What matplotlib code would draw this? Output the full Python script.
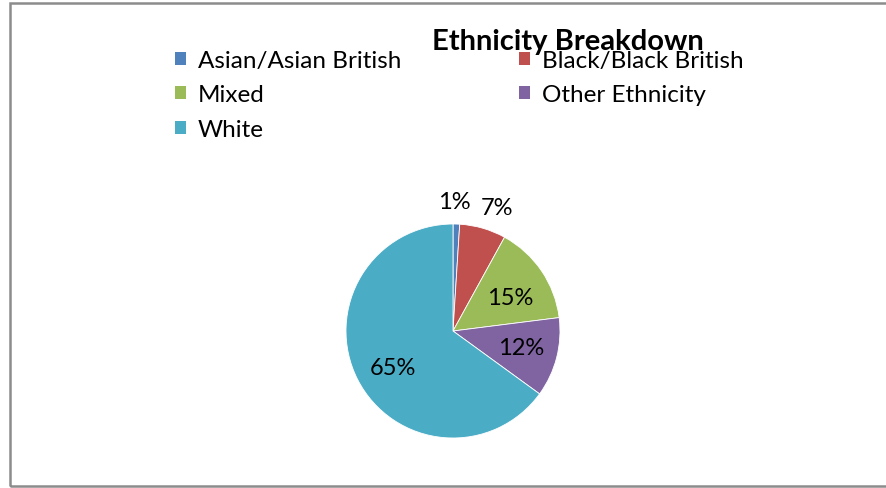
import numpy as np
import matplotlib
matplotlib.use("Agg")
import matplotlib.pyplot as plt
from matplotlib.patches import Rectangle, Patch

# Данные
categories = ["Asian/Asian British", "Black/Black British", "Mixed",
              "Other Ethnicity", "White"]
values = [1, 7, 15, 12, 65]
colors = ["#4F81BD", "#C0504D", "#9BBB59", "#8064A2", "#4BACC6"]

plt.rcParams['font.family'] = ['Lato', 'DejaVu Sans']

W, H = 886, 489
fig = plt.figure(figsize=(W / 100, H / 100), dpi=100)

# Рамка области диаграммы
fig.patches.append(Rectangle((10 / W, 1 - 487 / H), 1.2, (487 - 4) / H,
                             transform=fig.transFigure, fill=False,
                             edgecolor="#8c8c8c", linewidth=1.8))

# Круговая диаграмма
cx, cy, r = 453, 332, 107
ax = fig.add_axes([(cx - r) / W, 1 - (cy + r) / H, 2 * r / W, 2 * r / H])
wedges, texts, autotexts = ax.pie(values, colors=colors, startangle=90,
                                  counterclock=False, radius=1,
                                  autopct=lambda p: f"{p:.0f}%",
                                  pctdistance=0.65,
                                  wedgeprops=dict(linewidth=0.6, edgecolor="white"),
                                  textprops=dict(fontsize=17, color="black"))
ax.set_xlim(-1, 1)
ax.set_ylim(-1, 1)
ax.set_aspect("equal")

# Положение подписей: (сдвиг угла в градусах, расстояние от центра)
label_place = [(1.0, 1.21), (-3.5, 1.23), (-4.0, 0.62), (1.0, 0.65), (4.0, 0.66)]
for w, t, (dang, dist) in zip(wedges, autotexts, label_place):
    ang = np.deg2rad((w.theta1 + w.theta2) / 2 + dang)
    t.set_position((dist * np.cos(ang), dist * np.sin(ang)))
    t.set_clip_on(False)

# Заголовок
fig.text(568 / W, 1 - 42 / H, "Ethnicity Breakdown", ha="center", va="center",
         fontsize=21, fontweight="bold")

# Легенда в две колонки (построчно, как в Excel)
handles = [Patch(facecolor=c) for c in colors]
leg_kw = dict(loc="upper left", frameon=False, fontsize=17.5,
              handlelength=0.45, handleheight=0.45, handletextpad=0.5,
              labelspacing=0.55, borderpad=0, borderaxespad=0)
fig.legend([handles[0], handles[2], handles[4]],
           [categories[0], categories[2], categories[4]],
           bbox_to_anchor=(175 / W, 1 - 51 / H), **leg_kw)
fig.legend([handles[1], handles[3]],
           [categories[1], categories[3]],
           bbox_to_anchor=(519 / W, 1 - 51 / H), **leg_kw)

fig.savefig("out.png", dpi=100)
